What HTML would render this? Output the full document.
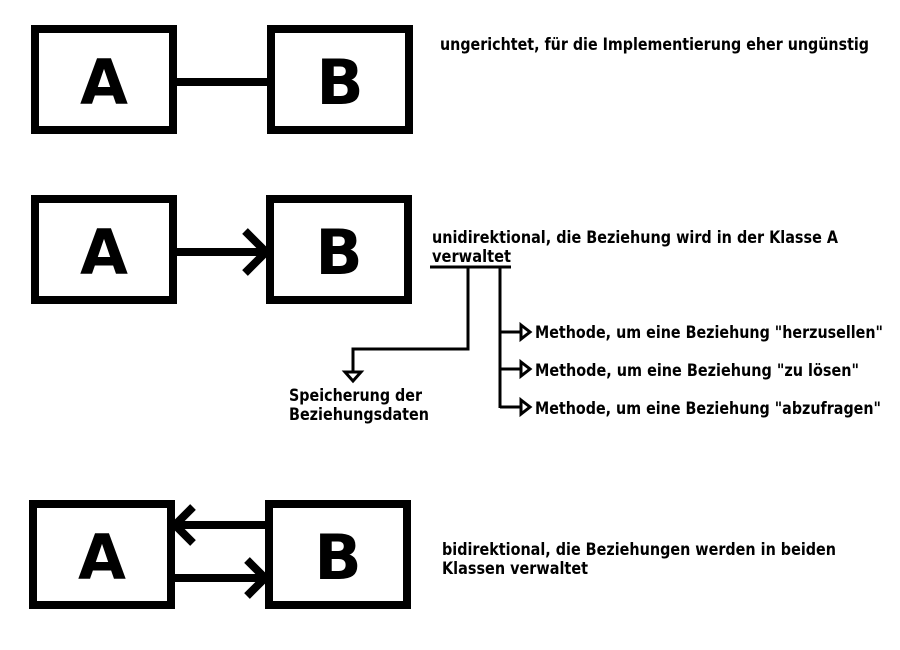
<!DOCTYPE html>
<html><head><meta charset="utf-8"><style>html,body{margin:0;padding:0;background:#fff}svg{display:block}</style></head>
<body>
<svg width="900" height="650" viewBox="0 0 900 650" xmlns="http://www.w3.org/2000/svg">
<g fill="none" stroke="#000" stroke-width="8">
<rect x="35" y="29" width="138" height="101"/>
<rect x="271" y="29" width="138" height="101"/>
<line x1="173" y1="82" x2="271" y2="82"/>
<rect x="35" y="199" width="138" height="101"/>
<rect x="270" y="199" width="138" height="101"/>
<line x1="173" y1="252" x2="266" y2="252"/>
<polyline points="245,231 266,252 245,273"/>
<rect x="33" y="504" width="138" height="101"/>
<rect x="269" y="504" width="138" height="101"/>
<line x1="175" y1="525" x2="269" y2="525"/>
<polyline points="193,507 175,525 193,543"/>
<line x1="171" y1="578" x2="265" y2="578"/>
<polyline points="247,560 265,578 247,596"/>
</g>
<g fill="none" stroke="#000" stroke-width="3">
<line x1="430" y1="267" x2="511" y2="267"/>
<polyline points="468,267 468,349 353,349 353,372"/>
<polygon points="345,372 361,372 353,381" fill="#fff"/>
<line x1="500" y1="267" x2="500" y2="408"/>
<line x1="500" y1="332" x2="521" y2="332"/>
<line x1="500" y1="369" x2="521" y2="369"/>
<line x1="500" y1="407" x2="521" y2="407"/>
<polygon points="521,325 530,332 521,339" fill="#fff"/>
<polygon points="521,362 530,369 521,376" fill="#fff"/>
<polygon points="521,400 530,407 521,414" fill="#fff"/>
</g>
<g font-family="DejaVu Sans, sans-serif" font-weight="bold" font-size="62" text-anchor="middle">
<text x="104" y="104">A</text><text x="340" y="104">B</text>
<text x="104" y="274">A</text><text x="339" y="274">B</text>
<text x="102" y="579">A</text><text x="338" y="579">B</text>
</g>
<g font-family="DejaVu Sans, sans-serif" font-weight="bold" font-size="16.5">
<text x="440" y="50" textLength="429" lengthAdjust="spacingAndGlyphs">ungerichtet, für die Implementierung eher ungünstig</text>
<text x="432" y="243" textLength="406" lengthAdjust="spacingAndGlyphs">unidirektional, die Beziehung wird in der Klasse A</text>
<text x="432" y="262" textLength="79" lengthAdjust="spacingAndGlyphs">verwaltet</text>
<text x="535" y="338" textLength="348" lengthAdjust="spacingAndGlyphs">Methode, um eine Beziehung "herzusellen"</text>
<text x="535" y="376" textLength="324" lengthAdjust="spacingAndGlyphs">Methode, um eine Beziehung "zu lösen"</text>
<text x="535" y="414" textLength="346" lengthAdjust="spacingAndGlyphs">Methode, um eine Beziehung "abzufragen"</text>
<text x="289" y="401" textLength="133" lengthAdjust="spacingAndGlyphs">Speicherung der</text>
<text x="289" y="420" textLength="140" lengthAdjust="spacingAndGlyphs">Beziehungsdaten</text>
<text x="442" y="555" textLength="394" lengthAdjust="spacingAndGlyphs">bidirektional, die Beziehungen werden in beiden</text>
<text x="442" y="574" textLength="146" lengthAdjust="spacingAndGlyphs">Klassen verwaltet</text>
</g>
</svg>
</body></html>
